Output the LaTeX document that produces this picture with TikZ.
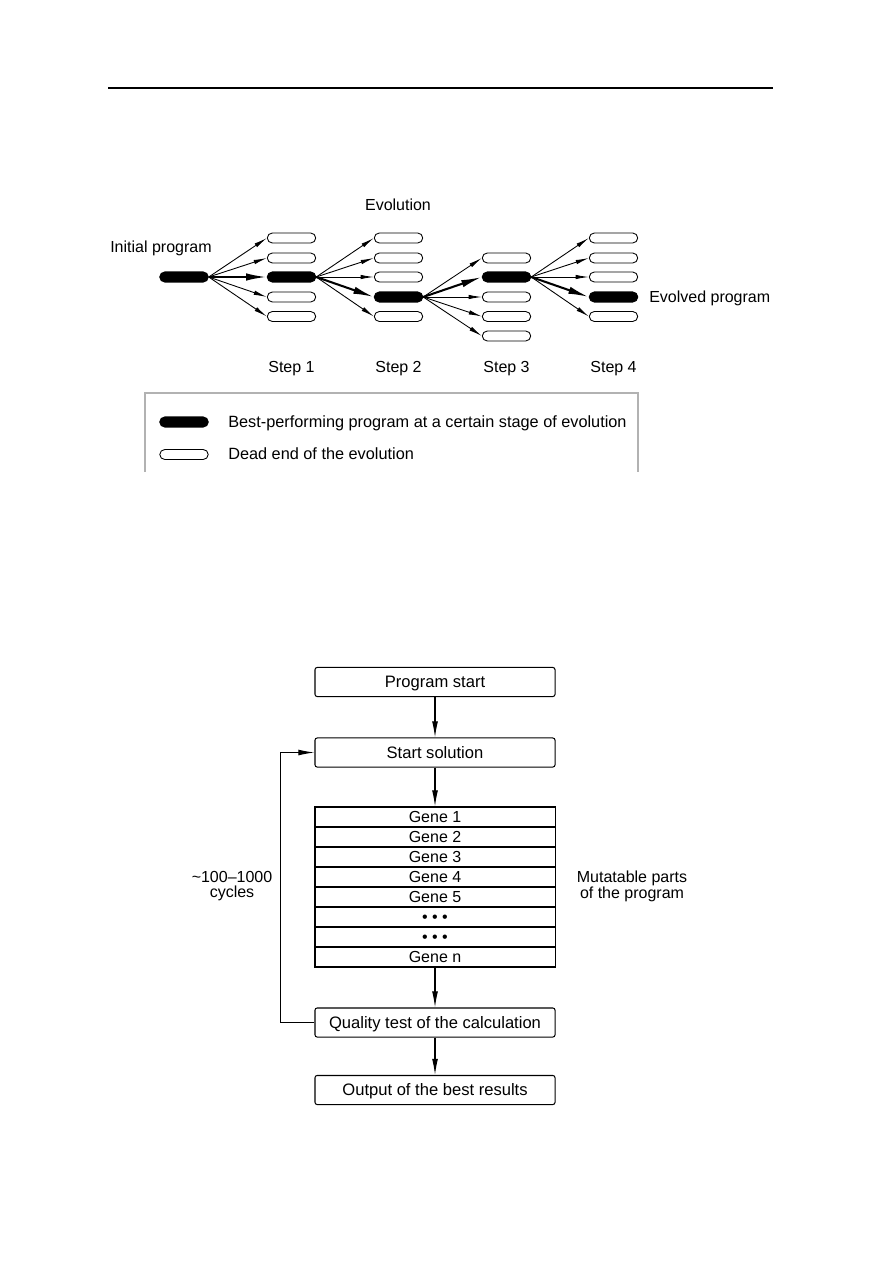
\documentclass[tikz,border=0pt]{standalone}
\usepackage{fontspec}
\setmainfont{Liberation Sans}
\usetikzlibrary{arrows.meta}
\begin{document}
\begin{tikzpicture}[x=0.6816pt,y=-0.6816pt,font=\fontsize{10.9}{10.8}\selectfont]
\tikzstyle{best_style} = [draw, fill=black, line width=0.7pt, rounded corners=3.4pt, minimum width=33pt, minimum height=6.8pt, inner sep=0pt]
\tikzstyle{dead_style} = [draw, fill=white, line width=0.6pt, rounded corners=3.4pt, minimum width=33pt, minimum height=6.8pt, inner sep=0pt]
\tikzstyle{edge_style} = [-{Latex[length=9pt,width=3pt]}, black, line width=0.6pt]
\tikzstyle{best_edge} = [-{Latex[length=14pt,width=5pt]}, black, line width=1.4pt]
\tikzstyle{box_style} = [draw, line width=0.7pt, rounded corners=1.5pt, minimum width=163.6pt, minimum height=19.8pt, inner sep=0pt, font=\fontsize{11.3}{11}\selectfont, text height=9pt, text depth=1pt]
\tikzstyle{gene_style} = [draw, line width=0.7pt, minimum width=163.6pt, minimum height=13.63pt, inner sep=0pt, text height=8.8pt, text depth=1pt]
\tikzstyle{flow_edge} = [-{Latex[length=11pt,width=4pt]}, black, line width=0.7pt]
    \useasboundingbox (0,0) rectangle (873,1288);
    \draw[line width=0.9pt] (108,88) -- (773,88);

    % evolution tree
    \node[best_style] (v0) at (184,277) {};

    \node[dead_style] (v11) at (291.5,238) {};
    \node[dead_style] (v12) at (291.5,258) {};
    \node[best_style] (v13) at (291.5,277) {};
    \node[dead_style] (v14) at (291.5,297) {};
    \node[dead_style] (v15) at (291.5,316.5) {};

    \node[dead_style] (v21) at (398.5,238) {};
    \node[dead_style] (v22) at (398.5,258) {};
    \node[dead_style] (v23) at (398.5,277) {};
    \node[best_style] (v24) at (398.5,297) {};
    \node[dead_style] (v25) at (398.5,316.5) {};

    \node[dead_style] (v31) at (506.5,258) {};
    \node[best_style] (v32) at (506.5,277) {};
    \node[dead_style] (v33) at (506.5,297) {};
    \node[dead_style] (v34) at (506.5,316.5) {};
    \node[dead_style] (v35) at (506.5,336) {};

    \node[dead_style] (v41) at (613.5,238) {};
    \node[dead_style] (v42) at (613.5,258) {};
    \node[dead_style] (v43) at (613.5,277) {};
    \node[best_style] (v44) at (613.5,297) {};
    \node[dead_style] (v45) at (613.5,316.5) {};

    \draw[edge_style] (v0.east) -- (v11.west);
    \draw[edge_style] (v0.east) -- (v12.west);
    \draw[best_edge] (v0.east) -- (v13.west);
    \draw[edge_style] (v0.east) -- (v14.west);
    \draw[edge_style] (v0.east) -- (v15.west);

    \draw[edge_style] (v13.east) -- (v21.west);
    \draw[edge_style] (v13.east) -- (v22.west);
    \draw[edge_style] (v13.east) -- (v23.west);
    \draw[best_edge] (v13.east) -- (v24.west);
    \draw[edge_style] (v13.east) -- (v25.west);

    \draw[edge_style] (v24.east) -- (v31.west);
    \draw[best_edge] (v24.east) -- (v32.west);
    \draw[edge_style] (v24.east) -- (v33.west);
    \draw[edge_style] (v24.east) -- (v34.west);
    \draw[edge_style] (v24.east) -- (v35.west);

    \draw[edge_style] (v32.east) -- (v41.west);
    \draw[edge_style] (v32.east) -- (v42.west);
    \draw[edge_style] (v32.east) -- (v43.west);
    \draw[best_edge] (v32.east) -- (v44.west);
    \draw[edge_style] (v32.east) -- (v45.west);

    \node[anchor=base] (evo) at (398,211) {Evolution};
    \node[anchor=base west, inner sep=0pt] (ini) at (110,253) {Initial program};
    \node[anchor=base west, inner sep=0pt] (fin) at (649,303) {Evolved program};
    \node[anchor=base] (l1) at (291.5,372) {Step 1};
    \node[anchor=base] (l2) at (398.5,372) {Step 2};
    \node[anchor=base] (l3) at (506.5,372) {Step 3};
    \node[anchor=base] (l4) at (613.5,372) {Step 4};

    % legend
    \draw[gray!60, line width=0.7pt] (145,472) -- (145,393) -- (638,393) -- (638,472);
    \node[best_style] (k1) at (184,422) {};
    \node[dead_style] (k2) at (184,454.5) {};
    \node[anchor=base west, inner sep=0pt, font=\fontsize{11.1}{11}\selectfont] (t1) at (228,427) {Best-performing program at a certain stage of evolution};
    \node[anchor=base west, inner sep=0pt, font=\fontsize{11.1}{11}\selectfont] (t2) at (228,459) {Dead end of the evolution};

    % flow chart
    \node[box_style] (f1) at (435,682) {Program start};
    \node[box_style] (f2) at (435,752.5) {Start solution};
    \node[gene_style] (g1) at (435,817) {Gene 1};
    \node[gene_style] (g2) at (435,837) {Gene 2};
    \node[gene_style] (g3) at (435,857) {Gene 3};
    \node[gene_style] (g4) at (435,877) {Gene 4};
    \node[gene_style] (g5) at (435,897) {Gene 5};
    \node[gene_style] (g6) at (435,917) {• • •};
    \node[gene_style] (g7) at (435,937) {• • •};
    \node[gene_style] (g8) at (435,957) {Gene n};
    \node[box_style] (f4) at (435,1022.5) {Quality test of the calculation};
    \node[box_style] (f5) at (435,1090) {Output of the best results};

    \draw[flow_edge] (f1) -- (f2);
    \draw[flow_edge] (f2) -- (g1);
    \draw[flow_edge] (g8) -- (f4);
    \draw[flow_edge] (f4) -- (f5);
    \draw[flow_edge] (f4.west) -- ++(-34,0) |- (f2.west);

    \node[align=center] (cyc) at (232,886) {\textasciitilde100–1000\\cycles};
    \node[align=center] (mut) at (632,886) {Mutatable parts\\of the program};
\end{tikzpicture}
\end{document}
